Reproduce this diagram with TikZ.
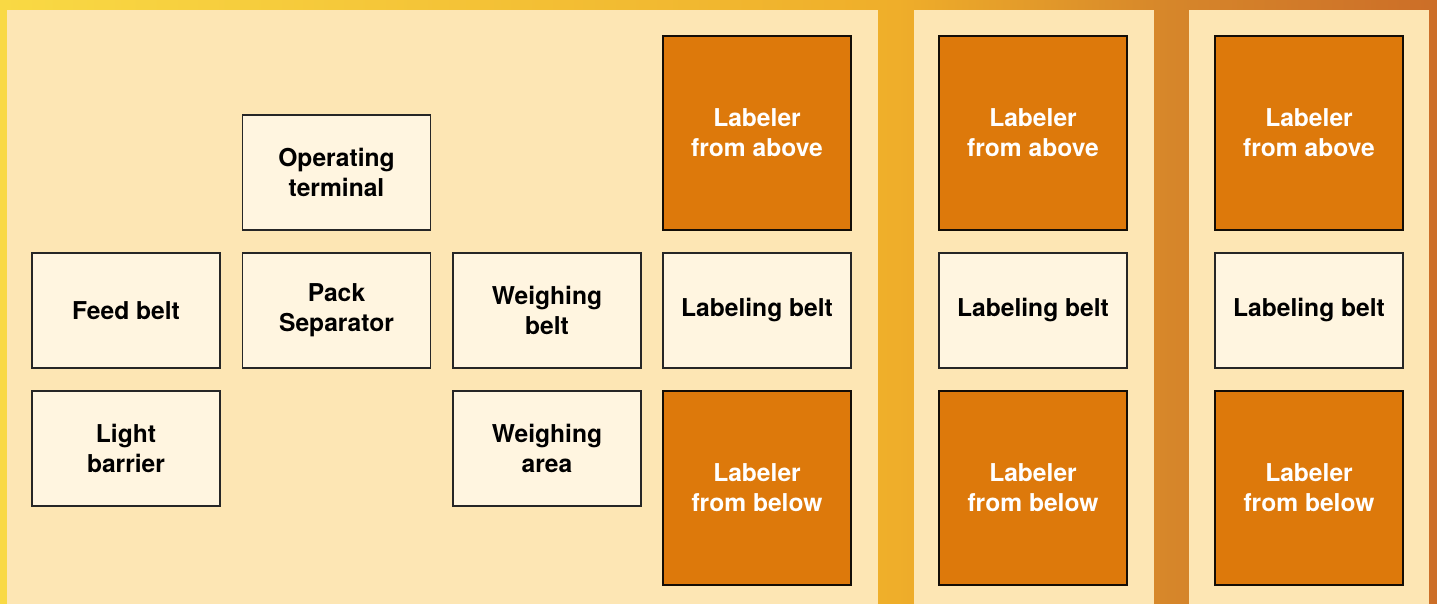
\documentclass[tikz,border=0pt]{standalone}
\usepackage{fontspec}
\setmainfont{TeX Gyre Heros}
\definecolor{bgyellow}{HTML}{F9D944}
\definecolor{bgamber}{HTML}{EFAE2A}
\definecolor{bgcopper}{HTML}{D6862A}
\definecolor{bgorange}{HTML}{CC6E28}
\definecolor{panel}{HTML}{FDE6B4}
\definecolor{boxlight}{HTML}{FFF5E0}
\definecolor{boxorange}{HTML}{DD790B}
\pgfdeclarehorizontalshading{bgshade}{100bp}{color(0bp)=(bgyellow);
  color(25bp)=(bgyellow); color(56.2bp)=(bgamber); color(65.7bp)=(bgcopper);
  color(75bp)=(bgorange); color(100bp)=(bgorange)}
\tikzset{
  beltbox/.style={draw=black!85,line width=.6pt,fill=boxlight,
    minimum width=94pt,minimum height=57.5pt,inner sep=0pt,
    align=center,font=\fontsize{12.3}{15}\selectfont\bfseries},
  labelerbox/.style={beltbox,draw=black!90!brown,fill=boxorange,
    text=white,minimum height=97pt}
}
\begin{document}
\begin{tikzpicture}[x=.5pt,y=-.5pt]
  % background and the three panels
  \shade[shading=bgshade] (0,0) rectangle (1437,604);
  \fill[panel] (7,10) rectangle (878,604);
  \fill[panel] (914,10) rectangle (1154,604);
  \fill[panel] (1189,10) rectangle (1429,604);

  % first panel
  \node[beltbox] (term) at (336.5,172.5) {Operating\\terminal};
  \node[beltbox] (feed) at (126,310.5) {Feed belt};
  \node[beltbox] (sep) at (336.5,310.5) {Pack\\Separator};
  \node[beltbox] (wbelt) at (547,310.5) {Weighing\\belt};
  \node[beltbox] (light) at (126,448.5) {Light\\barrier};
  \node[beltbox] (warea) at (547,448.5) {Weighing\\area};
  \node[labelerbox] (above1) at (757,133) {Labeler\\from above};
  \node[beltbox] (lbelt1) at (757,310.5) {Labeling belt};
  \node[labelerbox] (below1) at (757,488) {Labeler\\from below};

  % second panel
  \node[labelerbox] (above2) at (1033,133) {Labeler\\from above};
  \node[beltbox] (lbelt2) at (1033,310.5) {Labeling belt};
  \node[labelerbox] (below2) at (1033,488) {Labeler\\from below};

  % third panel
  \node[labelerbox] (above3) at (1309,133) {Labeler\\from above};
  \node[beltbox] (lbelt3) at (1309,310.5) {Labeling belt};
  \node[labelerbox] (below3) at (1309,488) {Labeler\\from below};
\end{tikzpicture}
\end{document}
